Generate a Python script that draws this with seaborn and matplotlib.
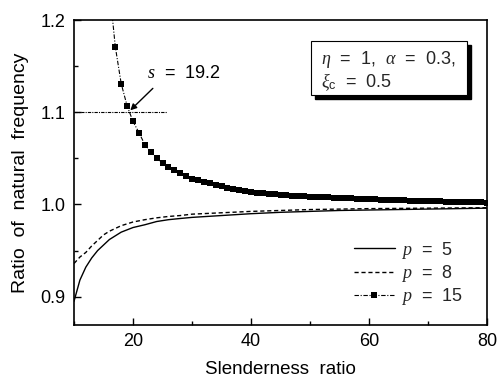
import numpy as np
import pandas as pd
import matplotlib
matplotlib.use("Agg")
import matplotlib.pyplot as plt
import seaborn as sns
from matplotlib.patches import Rectangle
from matplotlib.ticker import MultipleLocator

# ---- data ----
x_p5 = [10, 11, 12, 13, 14, 15, 16, 17, 18, 20, 22, 24, 26, 28, 30, 35, 40, 45, 50, 55, 60, 70, 80]
y_p5 = [0.895, 0.918, 0.932, 0.942, 0.950, 0.956, 0.962, 0.966, 0.970, 0.975, 0.978, 0.9815,
        0.9835, 0.9848, 0.986, 0.988, 0.990, 0.9915, 0.9925, 0.9935, 0.994, 0.995, 0.996]

x_p8 = [10, 11, 12, 13, 14, 15, 16, 17, 18, 20, 22, 24, 26, 28, 30, 35, 40, 45, 50, 55, 60, 70, 80]
y_p8 = [0.936, 0.943, 0.948, 0.955, 0.961, 0.967, 0.971, 0.974, 0.977, 0.981, 0.9835, 0.9855,
        0.987, 0.988, 0.9895, 0.991, 0.9925, 0.9935, 0.9945, 0.995, 0.9955, 0.996, 0.9965]

x_p15 = list(range(16, 81))
y_p15 = [1.235, 1.171, 1.131, 1.107, 1.090, 1.078, 1.065, 1.057, 1.050, 1.045, 1.041, 1.037,
         1.034, 1.031, 1.028, 1.026, 1.024, 1.023, 1.021, 1.0195, 1.018, 1.017, 1.016, 1.015,
         1.014, 1.0128, 1.0121, 1.0115, 1.0110, 1.0105, 1.0100, 1.0096, 1.0092, 1.0089, 1.0086,
         1.0083, 1.0080, 1.0077, 1.0074, 1.0071, 1.0068, 1.0065, 1.0062, 1.0059, 1.0056, 1.0054,
         1.0052, 1.0050, 1.0048, 1.0046, 1.0044, 1.0042, 1.0040, 1.0038, 1.0036, 1.0034, 1.0033,
         1.0031, 1.0030, 1.0028, 1.0027, 1.0025, 1.0024, 1.0022, 1.0021]

ref_line_x = [10, 25.7]
ref_line_y = [1.1, 1.1]
s_value = 19.2

labels = ["$p$  =  5", "$p$  =  8", "$p$  =  15"]
x_ticks = [20, 40, 60, 80]
y_ticks = [0.9, 1.0, 1.1, 1.2]

# ---- style ----
sns.set_theme(style="ticks")
plt.rcParams['font.family'] = ['Liberation Sans', 'DejaVu Sans']
plt.rcParams['mathtext.fontset'] = 'custom'
plt.rcParams['mathtext.it'] = 'Liberation Serif:italic'
plt.rcParams['mathtext.rm'] = 'Liberation Sans'
plt.rcParams['mathtext.sf'] = 'Liberation Sans'

fig = plt.figure(figsize=(4.99, 3.80), dpi=100)
ax = fig.add_axes([0.1483, 0.1447, 0.8277, 0.8026])

df5 = pd.DataFrame({"x": x_p5, "y": y_p5})
df8 = pd.DataFrame({"x": x_p8, "y": y_p8})
df15 = pd.DataFrame({"x": x_p15, "y": y_p15})

sns.lineplot(data=df5, x="x", y="y", ax=ax, color="black", lw=1.0, linestyle="-",
             label=labels[0], estimator=None, sort=False)
sns.lineplot(data=df8, x="x", y="y", ax=ax, color="black", lw=1.0, linestyle=(0, (3, 2)),
             label=labels[1], estimator=None, sort=False)
sns.lineplot(data=df15, x="x", y="y", ax=ax, color="black", lw=0.8, linestyle=(0, (4, 1.5, 1, 1.5)),
             marker="s", markersize=4.5, markeredgewidth=0, markerfacecolor="black",
             label=labels[2], estimator=None, sort=False)

ax.plot(ref_line_x, ref_line_y, color="black", lw=0.8, linestyle=(0, (3, 1, 1, 1)))

ax.annotate("", xy=(s_value, 1.1), xytext=(23.7, 1.128),
            arrowprops=dict(arrowstyle="-|>", color="black", lw=1.0, mutation_scale=9))
ax.text(22.4, 1.1415, "$s$  =  19.2", fontsize=13, color="black", ha="left", va="center")

ax.set_xlim(10, 80)
ax.set_ylim(0.8693, 1.2)
ax.set_xticks(x_ticks)
ax.set_yticks(y_ticks)
ax.set_yticklabels([f"{v:.1f}" for v in y_ticks])
ax.xaxis.set_minor_locator(MultipleLocator(10))
ax.yaxis.set_minor_locator(MultipleLocator(0.05))
ax.tick_params(which="both", direction="in", colors="black", labelsize=13, pad=6)
ax.tick_params(which="major", length=5, width=1)
ax.tick_params(which="minor", length=3, width=1)
for sp in ax.spines.values():
    sp.set_visible(True)
    sp.set_color("black")
    sp.set_linewidth(1.2)

ax.set_xlabel("Slenderness  ratio", fontsize=13.5, color="black", labelpad=8)
ax.set_ylabel("Ratio  of  natural  frequency", fontsize=14, color="black", labelpad=8)

# parameter box with shadow
bx0, bx1 = 0.574, 0.952
by0, by1 = 0.754, 0.931
dx, dy = 4 / 413, 4 / 305
ax.add_patch(Rectangle((bx0 + dx, by0 - dy), bx1 - bx0, by1 - by0, transform=ax.transAxes,
                       facecolor="black", edgecolor="black", zorder=5))
ax.add_patch(Rectangle((bx0, by0), bx1 - bx0, by1 - by0, transform=ax.transAxes,
                       facecolor="white", edgecolor="black", lw=0.8, zorder=6))
ax.text(0.598, 0.872, r"$\eta$  =  1,  $\alpha$  =  0.3,", transform=ax.transAxes,
        fontsize=13, va="center", ha="left", zorder=7)
ax.text(0.598, 0.797, r"$\xi_{\mathrm{c}}$  =  0.5", transform=ax.transAxes,
        fontsize=13, va="center", ha="left", zorder=7)

ax.legend(loc="lower right", bbox_to_anchor=(0.96, 0.035), frameon=False, fontsize=13,
          handlelength=2.3, labelspacing=0.12, handletextpad=0.35, borderaxespad=0)

fig.savefig("out.png", dpi=100)
